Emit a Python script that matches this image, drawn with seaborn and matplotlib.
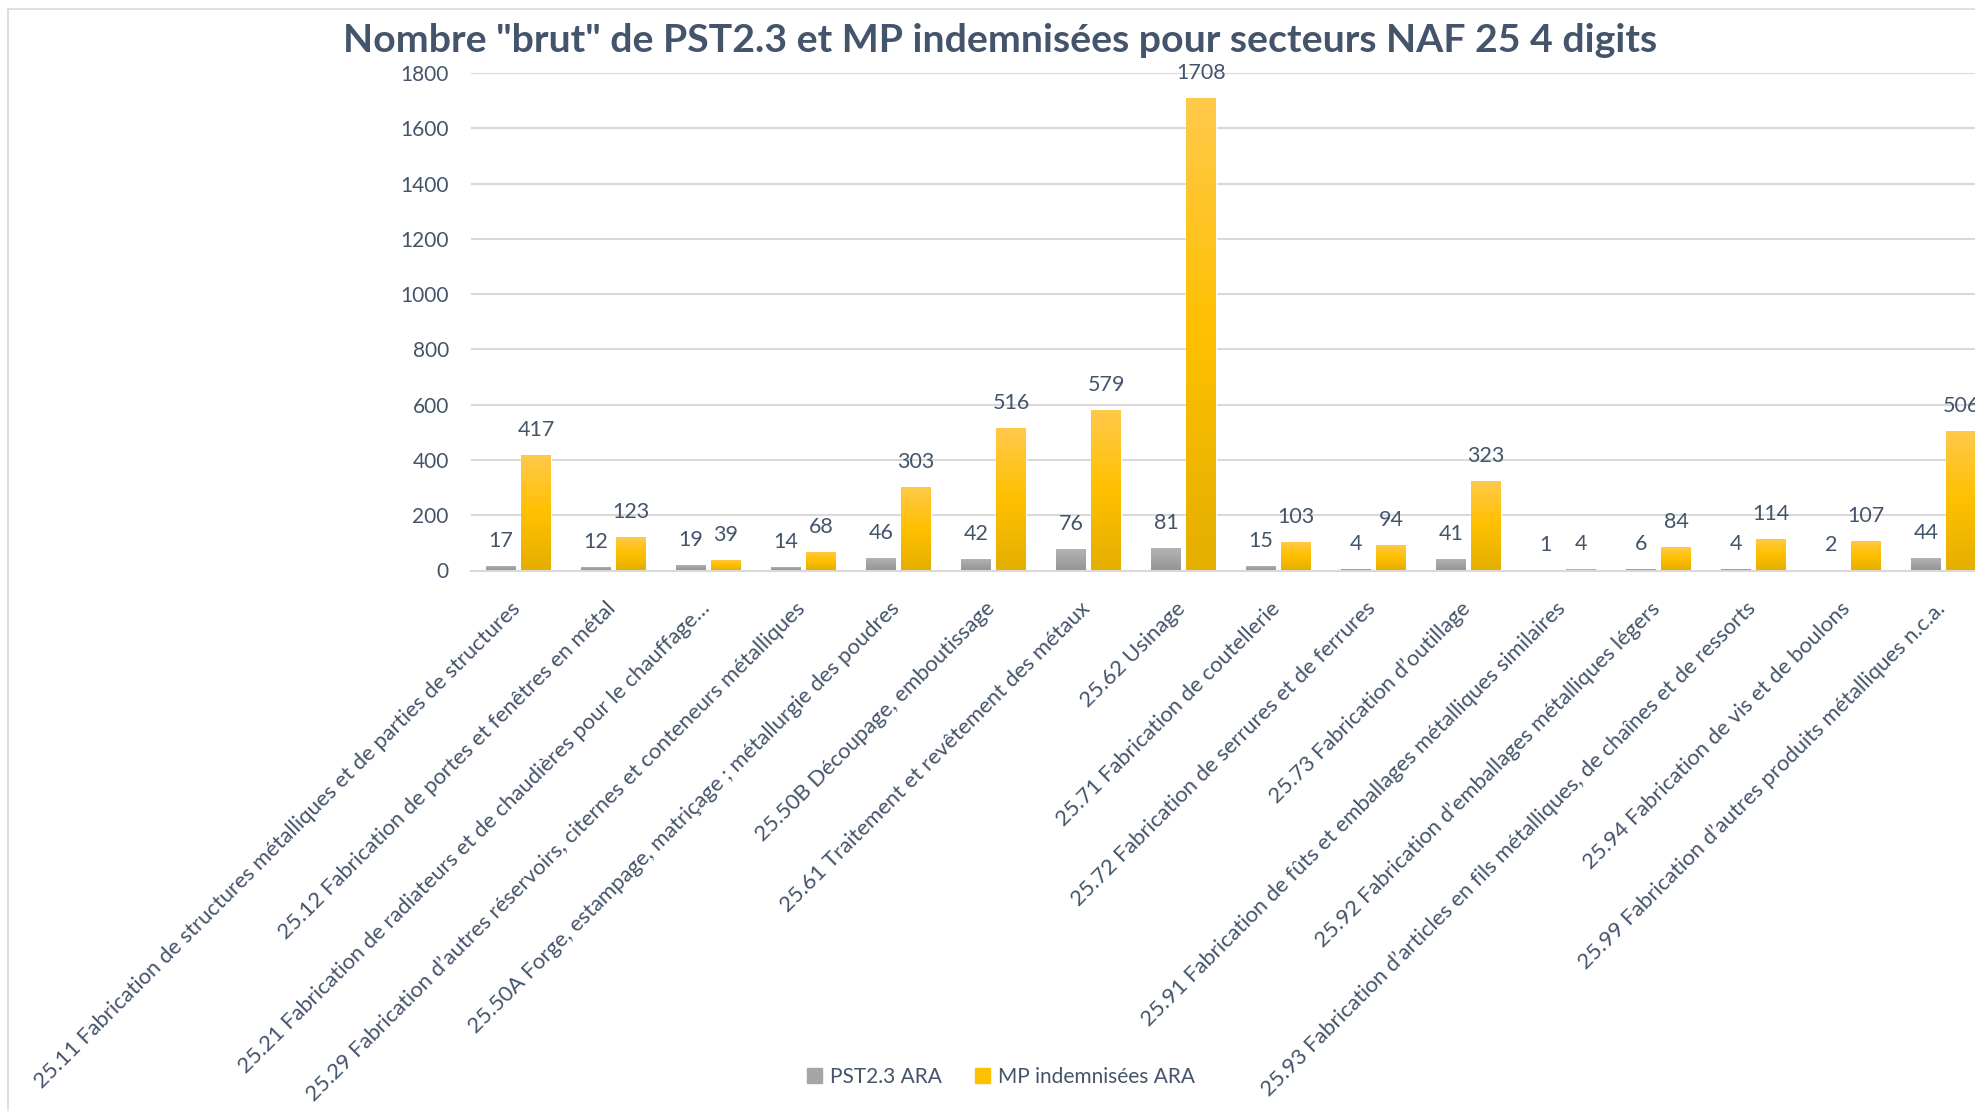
import numpy as np
import pandas as pd
import seaborn as sns
import matplotlib.pyplot as plt
from matplotlib.colors import LinearSegmentedColormap
from matplotlib.patches import Rectangle

# --- data ---
secteurs = [
    "25.11 Fabrication de structures métalliques et de parties de structures",
    "25.12 Fabrication de portes et fenêtres en métal",
    "25.21 Fabrication de radiateurs et de chaudières pour le chauffage…",
    "25.29 Fabrication d’autres réservoirs, citernes et conteneurs métalliques",
    "25.50A Forge, estampage, matriçage ; métallurgie des poudres",
    "25.50B Découpage, emboutissage",
    "25.61 Traitement et revêtement des métaux",
    "25.62 Usinage",
    "25.71 Fabrication de coutellerie",
    "25.72 Fabrication de serrures et de ferrures",
    "25.73 Fabrication d’outillage",
    "25.91 Fabrication de fûts et emballages métalliques similaires",
    "25.92 Fabrication d’emballages métalliques légers",
    "25.93 Fabrication d’articles en fils métalliques, de chaînes et de ressorts",
    "25.94 Fabrication de vis et de boulons",
    "25.99 Fabrication d’autres produits métalliques n.c.a.",
]
pst_ara = [17, 12, 19, 14, 46, 42, 76, 81, 15, 4, 41, 1, 6, 4, 2, 44]
mp_ara = [417, 123, 39, 68, 303, 516, 579, 1708, 103, 94, 323, 4, 84, 114, 107, 506]
series = ["PST2.3 ARA", "MP indemnisées ARA"]
title = 'Nombre "brut" de PST2.3 et MP indemnisées pour secteurs NAF 25 4 digits'

TEXT = "#44546A"
GRID = "#D9D9D9"
base_colors = ["#A5A5A5", "#FFC000"]
gradients = [
    ["#959595", "#A5A5A5", "#B5B5B5"],   # bottom -> top
    ["#E5AF00", "#FFC000", "#FFC94A"],
]

df = pd.DataFrame({
    "secteur": secteurs * 2,
    "serie": [series[0]] * len(secteurs) + [series[1]] * len(secteurs),
    "nombre": pst_ara + mp_ara,
})

sns.set_style("white")
plt.rcParams["font.family"] = ["Lato", "DejaVu Sans"]

W, H = 1975, 1111
fig = plt.figure(figsize=(W / 100, H / 100), dpi=100)
ax = fig.add_axes([471 / W, (H - 570.5) / H, 1520 / W, 497.5 / H])

sns.barplot(
    data=df, x="secteur", y="nombre", hue="serie",
    palette=base_colors, width=0.74, gap=0.15, ax=ax, legend=False,
    saturation=1,
)

# gradient fill on each bar
for i, container in enumerate(ax.containers):
    cmap = LinearSegmentedColormap.from_list(f"g{i}", gradients[i])
    grad = np.linspace(0, 1, 64).reshape(-1, 1)
    for bar in container:
        x0, w, h = bar.get_x(), bar.get_width(), bar.get_height()
        if h <= 0:
            continue
        im = ax.imshow(grad, extent=[x0, x0 + w, 0, h], origin="lower",
                       aspect="auto", cmap=cmap, zorder=bar.get_zorder() + 0.1)
        im.set_clip_path(bar)
    for bar in container:
        ax.annotate(f"{int(round(bar.get_height()))}",
                    (bar.get_x() + bar.get_width() / 2, bar.get_height()),
                    xytext=(0, 18), textcoords="offset points",
                    ha="center", va="center", fontsize=15.5, color=TEXT)

ax.set_xlim(-0.5, len(secteurs) - 0.5)
ax.set_ylim(0, 1800)
ax.set_yticks(range(0, 1801, 200))
ax.yaxis.grid(True, color=GRID, linewidth=1.5)
ax.set_axisbelow(True)
for side in ["left", "right", "top"]:
    ax.spines[side].set_visible(False)
ax.spines["bottom"].set_color(GRID)
ax.spines["bottom"].set_linewidth(1.5)

ax.set_xlabel("")
ax.set_ylabel("")
# labels nudged slightly left of the category centre, as in the original
ax.set_xticks(np.arange(len(secteurs)) - 0.09)
ax.set_xticklabels(secteurs, rotation=45, ha="right", rotation_mode="anchor",
                   fontsize=15.8, color=TEXT)
ax.tick_params(axis="x", length=0, pad=20)
ax.tick_params(axis="y", length=0, pad=16, labelsize=15, labelcolor=TEXT)

fig.text(1000 / W, 1 - 41 / H, title, ha="center", va="center",
         fontsize=28.3, fontweight="bold", color=TEXT)

handles = [Rectangle((0, 0), 1, 1, color=c) for c in base_colors]
fig.legend(handles, series, loc="center", bbox_to_anchor=(1001 / W, 1 - 1077 / H),
           ncol=2, frameon=False, fontsize=15, labelcolor=TEXT,
           handlelength=0.7, handleheight=0.7, handletextpad=0.4, columnspacing=1.6)

# chart border
fig.patches.append(Rectangle((8 / W, -0.05), 1.2, 1 - 9 / H + 0.05,
                             transform=fig.transFigure, fill=False,
                             edgecolor=GRID, linewidth=1.2))

fig.savefig("out.png", dpi=100)
